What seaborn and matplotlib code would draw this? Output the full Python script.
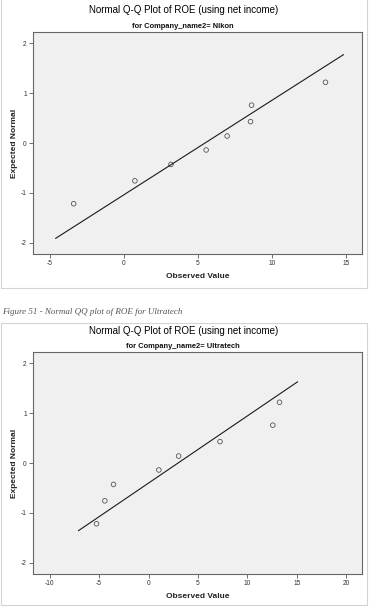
import numpy as np
import pandas as pd
import seaborn as sns
import matplotlib
matplotlib.use("Agg")
import matplotlib.pyplot as plt
from matplotlib.patches import Rectangle

# ---------------- data ----------------
title = "Normal Q-Q Plot of ROE (using net income)"
companies = ["Nikon", "Ultratech"]
expected_normal = [-1.22, -0.76, -0.43, -0.14, 0.14, 0.43, 0.76, 1.22]
nikon_observed = [-3.40, 0.74, 3.18, 5.56, 6.98, 8.56, 8.63, 13.63]
ultratech_observed = [-5.27, -4.43, -3.55, 1.04, 3.04, 7.23, 12.57, 13.25]
nikon_xticks = [-5, 0, 5, 10, 15]
ultratech_xticks = [-10, -5, 0, 5, 10, 15, 20]
yticks = [-2, -1, 0, 1, 2]
caption = "Figure 51 - Normal QQ plot of ROE for Ultratech"

sns.set_theme(style="white")
plt.rcParams["font.family"] = ["Liberation Sans", "DejaVu Sans"]

W, H = 369, 607
fig = plt.figure(figsize=(W / 100, H / 100), dpi=100)
fig.patch.set_facecolor("white")


def fx(px):
    return px / W


def fy(py):
    return 1 - py / H


# panel borders
for (x0, y0, x1, y1) in [(1, -2, 366.5, 288), (1, 323, 366.5, 605)]:
    fig.add_artist(Rectangle((fx(x0), fy(y1)), fx(x1) - fx(x0), fy(y0) - fy(y1),
                             transform=fig.transFigure, fill=False,
                             edgecolor="#d4d4d4", linewidth=0.8))

panels = [
    dict(name=companies[0], obs=nikon_observed, xticks=nikon_xticks,
         xlim=(-6.15, 16.1), box=(33, 32, 362, 254), ttl=10, sub=26, xl=276),
    dict(name=companies[1], obs=ultratech_observed, xticks=ultratech_xticks,
         xlim=(-11.7, 21.6), box=(33, 352, 362, 574), ttl=330.5, sub=346.5, xl=596),
]

for p in panels:
    l, t, r, b = p["box"]
    ax = fig.add_axes([fx(l), fy(b), fx(r) - fx(l), fy(t) - fy(b)])
    ax.set_facecolor("#f0f0f0")
    df = pd.DataFrame({"Observed Value": p["obs"], "Expected Normal": expected_normal})

    # normal fit line from the data
    obs = np.asarray(p["obs"])
    mu, sd = obs.mean(), obs.std(ddof=1)
    ext = 0.055 * (p["xlim"][1] - p["xlim"][0])
    lx = np.array([obs.min() - ext, obs.max() + ext])
    line_df = pd.DataFrame({"x": lx, "y": (lx - mu) / sd})
    sns.lineplot(data=line_df, x="x", y="y", ax=ax, color="#1a1a1a", linewidth=0.8)

    sns.scatterplot(data=df, x="Observed Value", y="Expected Normal", ax=ax,
                    marker="o", s=11, facecolor="none", edgecolor="#555555",
                    linewidth=0.6)

    ax.set_xlim(*p["xlim"])
    ax.set_ylim(-2.23, 2.23)
    ax.set_xticks(p["xticks"])
    ax.set_yticks(yticks)
    ax.set_xticklabels([str(v) for v in p["xticks"]])
    ax.set_yticklabels([str(v) for v in yticks])
    ax.tick_params(axis="both", which="both", direction="out", length=3,
                   width=0.6, colors="#555555", labelsize=4.8, pad=1.5,
                   bottom=True, left=True, labelcolor="#333333")
    for s in ax.spines.values():
        s.set_color("#666666")
        s.set_linewidth(0.8)
    ax.set_xlabel("")
    ax.set_ylabel("")

    fig.text(fx(184), fy(p["ttl"]), title, ha="center", va="center",
             fontsize=7, color="#000000")
    fig.text(fx(183), fy(p["sub"]), "for Company_name2= " + p["name"],
             ha="center", va="center", fontsize=5.4, fontweight="bold",
             color="#111111")
    fig.text(fx(197.5), fy(p["xl"]), "Observed Value", ha="center",
             va="center", fontsize=6, fontweight="bold", color="#222222")
    fig.text(fx(14), fy((t + b) / 2), "Expected Normal", ha="center",
             va="center", rotation=90, fontsize=6, fontweight="bold",
             color="#222222")

fig.text(fx(2), fy(312), caption, ha="left", va="center", fontsize=6.5,
         family=["Liberation Serif", "DejaVu Serif"], style="italic",
         color="#555555")

fig.savefig("out.png", dpi=100, facecolor="white")
